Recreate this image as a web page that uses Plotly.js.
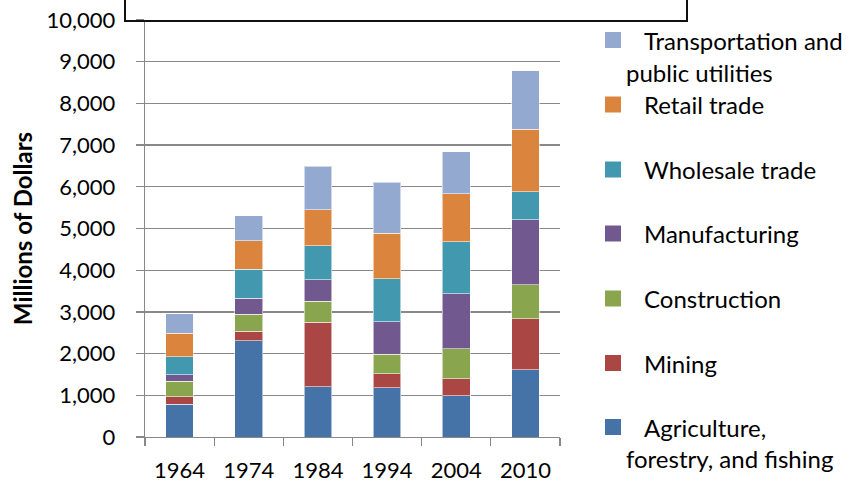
<!DOCTYPE html>
<html><head><meta charset="utf-8">
<script src="https://cdn.plot.ly/plotly-3.0.1.min.js"></script>
<style>html,body{margin:0;padding:0;background:#fff;overflow:hidden}</style>
</head><body><div id="chart" style="width:856px;height:483px"></div>
<script>
// ---- data ----
const years = ["1964", "1974", "1984", "1994", "2004", "2010"];
const agriculture = [785, 2313, 1200, 1184, 993, 1617];
const mining = [175, 223, 1553, 328, 399, 1224];
const construction = [377, 408, 504, 473, 729, 807];
const manufacturing = [151, 384, 511, 775, 1311, 1560];
const wholesale = [432, 689, 816, 1041, 1248, 672];
const retail = [568, 687, 864, 1080, 1152, 1497];
const transportation = [464, 600, 1048, 1231, 1008, 1407];
const seriesNames = ["Agriculture, forestry, and fishing", "Mining", "Construction", "Manufacturing", "Wholesale trade", "Retail trade", "Transportation and public utilities"];
const legendFirstLines = ["Agriculture,", "Mining", "Construction", "Manufacturing", "Wholesale trade", "Retail trade", "Transportation and"];
const legendSecondLines = ["forestry, and fishing", "", "", "", "", "", "public utilities"];
const yTickVals = [0, 1000, 2000, 3000, 4000, 5000, 6000, 7000, 8000, 9000, 10000];
const yAxisTitle = "Millions of Dollars";

// ---- styles ----
const colors = ["#4572A7", "#AA4643", "#89A54E", "#71588F", "#4198AF", "#DB843D", "#93A9CF"];
const seriesValues = [agriculture, mining, construction, manufacturing, wholesale, retail, transportation];
const FONT = "Lato, 'Open Sans', sans-serif";
const W = 856, H = 483;
const M = {l: 145, r: 296, t: 20, b: 46};
const PW = W - M.l - M.r, PH = H - M.t - M.b;
const px = x => (x - M.l) / PW;
const py = y => (H - M.b - y) / PH;

const traces = seriesValues.map((vals, i) => ({
  type: "bar",
  name: seriesNames[i],
  x: years,
  y: vals,
  marker: {color: colors[i], line: {color: "rgba(255,255,255,0.55)", width: 1}},
  width: 0.4,
  showlegend: false,
  hoverinfo: "name+y"
}));

const shapes = [];
const annotations = [];
// top text box border (partially visible)
shapes.push({type: "path", xref: "paper", yref: "paper",
  path: `M ${px(125)} ${py(-2)} L ${px(125)} ${py(21)} L ${px(687)} ${py(21)} L ${px(687)} ${py(-2)}`,
  line: {color: "#111", width: 2}});

// custom legend (Excel style)
const LEGSIZE = 24;
const markerCenters = [427, 363, 298.5, 233.5, 169.5, 104.5, 40];
for (let i = 0; i < seriesNames.length; i++) {
  const cy = markerCenters[i];
  shapes.push({type: "rect", xref: "paper", yref: "paper",
    x0: px(605), x1: px(621), y0: py(cy + 8), y1: py(cy - 8),
    fillcolor: colors[i], line: {width: 0}});
  annotations.push({xref: "paper", yref: "paper", x: px(642), y: py(cy),
    xanchor: "left", yanchor: "middle", showarrow: false,
    text: legendFirstLines[i], font: {family: FONT, size: LEGSIZE, color: "#000"}});
  if (legendSecondLines[i]) {
    annotations.push({xref: "paper", yref: "paper", x: px(624), y: py(cy + 32),
      xanchor: "left", yanchor: "middle", showarrow: false,
      text: legendSecondLines[i], font: {family: FONT, size: LEGSIZE, color: "#000"}});
  }
}

const layout = {
  width: W, height: H,
  margin: M,
  paper_bgcolor: "#fff", plot_bgcolor: "#fff",
  barmode: "stack",
  showlegend: false,
  font: {family: FONT, color: "#000"},
  xaxis: {
    type: "category",
    tickson: "boundaries",
    ticks: "outside", ticklen: 8, tickwidth: 1.3, tickcolor: "#888",
    showline: true, linecolor: "#888", linewidth: 1.3,
    showgrid: false, zeroline: false,
    tickfont: {family: FONT, size: 22, color: "#000"},
    ticklabelstandoff: 13,
    fixedrange: true
  },
  yaxis: {
    range: [0, 10000],
    tickvals: yTickVals,
    tickformat: ",d",
    ticks: "outside", ticklen: 8, tickwidth: 1.3, tickcolor: "#888",
    showline: true, linecolor: "#888", linewidth: 1.3,
    showgrid: true, gridcolor: "#888", gridwidth: 1.3,
    zeroline: false,
    tickfont: {family: FONT, size: 22, color: "#000"},
    ticklabelstandoff: 16,
    title: {text: yAxisTitle, font: {family: FONT, size: 24, color: "#000", weight: "bold"}, standoff: 7},
    fixedrange: true
  },
  shapes: shapes,
  annotations: annotations
};

Plotly.newPlot("chart", traces, layout, {displayModeBar: false, staticPlot: true});
</script>
</body></html>
